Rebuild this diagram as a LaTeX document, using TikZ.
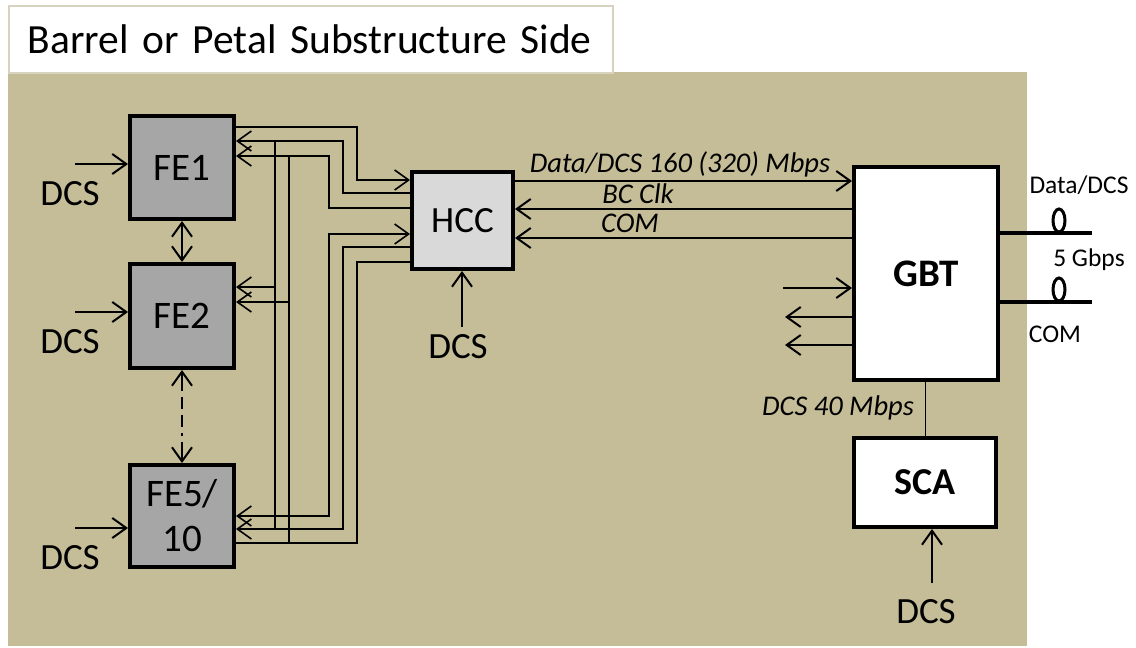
\documentclass[tikz,border=0pt]{standalone}
\usepackage{fontspec}
\setmainfont{Carlito}
\usetikzlibrary{arrows.meta,positioning}
\definecolor{tan}{HTML}{C4BD97}
\definecolor{fegray}{HTML}{A6A6A6}
\definecolor{hccgray}{HTML}{D9D9D9}
\definecolor{rim}{HTML}{D8D3BE}

\begin{document}
\begin{tikzpicture}[x=1pt,y=-1pt,>={Straight Barb[length=14pt,width=20pt]},
  chip/.style={draw=black,line width=4pt,align=center,inner sep=0pt,font=\fontsize{39}{45}\selectfont},
  rate/.style={font=\fontsize{28.5}{30}\selectfont\itshape,anchor=base,inner sep=0pt},
  small/.style={font=\fontsize{25.5}{27}\selectfont,anchor=base,inner sep=0pt},
  dcs/.style={font=\fontsize{37}{40}\selectfont,anchor=base,inner sep=0pt},
  link/.style={line width=2pt},
  bus/.style={line width=1.6pt},
  fibre/.style={line width=4pt}]
\useasboundingbox (0,0) rectangle (1136,648);
\fill[tan] (8,72) rectangle (1027,646);
\node[draw=rim,line width=1.5pt,fill=white,anchor=north west,minimum width=604pt,minimum height=67pt,inner xsep=19pt,text width=566pt,align=left,font=\fontsize{41.5}{44}\selectfont] (title) at (8,5) {Barrel or Petal Substructure Side};

% front-end chips, HCC, GBT, SCA
\node[chip,fill=fegray,minimum width=104pt,minimum height=103pt] (fe1) at (182,167.5) {FE1};
\node[chip,fill=fegray,minimum width=104pt,minimum height=104pt] (fe2) at (182,316) {FE2};
\node[chip,fill=fegray,minimum width=104pt,minimum height=102pt] (fe5) at (182,516) {FE5/\\10};
\node[chip,fill=hccgray,minimum width=101pt,minimum height=97pt,font=\fontsize{37}{40}\selectfont] (hcc) at (462.5,220.5) {HCC};
\node[chip,fill=white,minimum width=144pt,minimum height=213pt,font=\fontsize{39}{42}\selectfont\bfseries] (gbt) at (926,273.5) {GBT};
\node[chip,fill=white,minimum width=142pt,minimum height=89pt,font=\fontsize{38}{42}\selectfont\bfseries] (sca) at (925,482.5) {SCA};

% chip to chip
\draw[link,<->] (fe1.south) -- (fe2.north);
\draw[link,<->,dash pattern=on 18pt off 6pt on 12pt off 6pt on 12pt off 6pt on 3pt off 6pt on 50pt] (fe2.south) -- (fe5.north);

% HCC bus to the front-end chips
\draw[bus,->] (fe1.east|-0,127) -| (357,180) -- (hcc.west|-0,180);
\foreach \ya/\xv/\yb in {193/343/141,208/329/156}{\draw[bus,->] (hcc.west|-0,\ya) -| (\xv,\yb) -- (fe1.east|-0,\yb);}
\draw[bus,<->] (hcc.west|-0,234) -| (329,516) -- (fe5.east|-0,516);
\draw[bus,->] (hcc.west|-0,247) -| (343,529) -- (fe5.east|-0,529);
\draw[bus] (fe5.east|-0,543) -| (357,262) -- (hcc.west|-0,262);
\draw[bus] (275,141) -- (275,529);
\draw[bus] (289,156) -- (289,543);
\foreach \xv/\y in {275/287,289/302}{\draw[bus,->] (\xv,\y) -- (fe2.east|-0,\y);}

% HCC <-> GBT
\draw[link,->] (hcc.east|-0,181) -- (gbt.west|-0,181);
\draw[link,<-] (hcc.east|-0,209) -- (gbt.west|-0,209);
\draw[link,<-] (hcc.east|-0,238) -- (gbt.west|-0,238);
\node[rate] (datalbl) at (680,172) {Data/DCS 160 (320) Mbps};
\node[rate] (clklbl) at (638,203) {BC Clk};
\node[rate] (comlbl) at (630,232) {COM};

% GBT side ports
\coordinate (gin) at (783,288);
\coordinate (gout1) at (785,317);
\coordinate (gout2) at (785,345);
\draw[link,->] (gin) -- (gin-|gbt.west);
\draw[link,->] (gout1-|gbt.west) -- (gout1);
\draw[link,->] (gout2-|gbt.west) -- (gout2);

% optical links
\coordinate (fd) at (1092,233);
\coordinate (fc) at (1092,302);
\draw[fibre] (gbt.east|-fd) -- (fd);
\draw[fibre] (gbt.east|-fc) -- (fc);
\draw[line width=3pt] (1059,220.5) ellipse [x radius=6,y radius=11.5];
\draw[line width=3pt] (1059,289.5) ellipse [x radius=6,y radius=11.5];
\node[small] (fdlbl) at (1079,193) {Data/DCS};
\node[small] (raterlbl) at (1089,266) {5 Gbps};
\node[small] (fclbl) at (1055,342) {COM};

% GBT to SCA
\draw[line width=1pt] (sca.north) -- (sca.north|-gbt.south);
\node[rate] (scalbl) at (838,415) {DCS 40 Mbps};

% DCS inputs
\foreach \n/\y in {1/164,2/312,5/528}{
  \coordinate (in\n) at (75,\y);
  \draw[link,->] (in\n) -- (in\n-|fe\n.west);
  \node[dcs] (dcs\n) at (70,{\y+41}) {DCS};
}
\coordinate (hin) at (462,327);
\draw[link,->] (hin) -- (hin|-hcc.south);
\node[dcs] (hccdcs) at (458,358) {DCS};
\coordinate (sin) at (932,583);
\draw[link,->] (sin) -- (sin|-sca.south);
\node[dcs] (scadcs) at (926,623) {DCS};
\end{tikzpicture}
\end{document}
